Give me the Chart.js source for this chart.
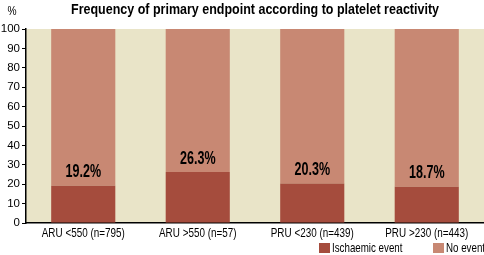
<!DOCTYPE html>
<html>
<head>
<meta charset="utf-8">
<script src="https://cdn.jsdelivr.net/npm/chart.js@4"></script>
<style>
  html, body { margin: 0; padding: 0; background: #fff; }
  #wrap { width: 484px; height: 255px; position: relative; }
</style>
</head>
<body>
<div id="wrap"><canvas id="chart" width="484" height="255"></canvas></div>
<script>
const categories = ['ARU <550 (n=795)', 'ARU >550 (n=57)', 'PRU <230 (n=439)', 'PRU >230 (n=443)'];
const ischaemic = [19.2, 26.3, 20.3, 18.7];
const noEvent = [80.8, 73.7, 79.7, 81.3];
const yTicks = [0, 10, 20, 30, 40, 50, 60, 70, 80, 90, 100];

const FONT = "'Liberation Sans', Arial, sans-serif";
const DARK = '#A54C3D';
const LIGHT = '#C88873';
const BG = '#E9E4C8';

// no condensed face is installed, so squeeze text horizontally
function narrowText(ctx, text, x, y, squeeze, align) {
    const w = ctx.measureText(text).width * squeeze;
    let left = x;
    if (align === 'center') left = x - w / 2;
    else if (align === 'right') left = x - w;
    ctx.save();
    ctx.textAlign = 'left';
    ctx.translate(left, y);
    ctx.scale(squeeze, 1);
    ctx.fillText(text, 0, 0);
    ctx.restore();
}

// beige plot background, title, % unit, value labels, x labels and legend
const decor = {
    id: 'decor',
    beforeDraw(chart) {
        const { ctx, chartArea: a } = chart;
        ctx.save();
        ctx.fillStyle = BG;
        ctx.fillRect(a.left, a.top, a.right - a.left, a.bottom - a.top);
        ctx.restore();
    },
    afterDraw(chart) {
        const { ctx, chartArea: a } = chart;
        const x = chart.scales.x, y = chart.scales.y;
        ctx.save();
        ctx.fillStyle = '#000';
        ctx.textBaseline = 'middle';

        ctx.font = 'bold 14px ' + FONT;
        const title = 'Frequency of primary endpoint according to platelet reactivity';
        narrowText(ctx, title, (a.left + a.right) / 2, 10, 368 / ctx.measureText(title).width, 'center');

        ctx.font = '12px ' + FONT;
        narrowText(ctx, '%', 12, 12, 0.85, 'center');

        // percentage labels above the ischaemic segment
        ctx.font = 'bold 19px ' + FONT;
        ischaemic.forEach((v, i) => {
            narrowText(ctx, v.toFixed(1) + '%', x.getPixelForValue(i), y.getPixelForValue(v) - 13.5, 0.66, 'center');
        });

        // category labels
        ctx.font = '13px ' + FONT;
        categories.forEach((c, i) => {
            narrowText(ctx, c, x.getPixelForValue(i), 233, 0.76, 'center');
        });

        // legend
        const items = [
            { label: 'Ischaemic event', color: DARK, x: 319 },
            { label: 'No event', color: LIGHT, x: 433 }
        ];
        items.forEach(it => {
            ctx.fillStyle = it.color;
            ctx.fillRect(it.x, 243, 11, 10);
            ctx.fillStyle = '#000';
            narrowText(ctx, it.label, it.x + 13, 248.5, 0.75, 'left');
        });
        ctx.restore();
    }
};

new Chart(document.getElementById('chart'), {
    type: 'bar',
    data: {
        labels: categories,
        datasets: [
            {
                label: 'Ischaemic event',
                data: ischaemic,
                backgroundColor: DARK,
                barPercentage: 0.56,
                categoryPercentage: 1
            },
            {
                label: 'No event',
                data: noEvent,
                backgroundColor: LIGHT,
                barPercentage: 0.56,
                categoryPercentage: 1
            }
        ]
    },
    options: {
        responsive: false,
        animation: false,
        layout: { padding: { top: 29, left: 0, right: 0, bottom: 0 } },
        plugins: {
            legend: { display: false },
            tooltip: { enabled: false }
        },
        scales: {
            x: {
                stacked: true,
                grid: { display: false },
                border: { color: '#000', width: 1.5 },
                ticks: { display: false },
                afterFit: s => { s.height = 32; }
            },
            y: {
                stacked: true,
                min: 0,
                max: 100,
                afterBuildTicks: s => { s.ticks = yTicks.map(v => ({ value: v })); },
                grid: { drawOnChartArea: false, drawTicks: true, tickLength: 4, color: '#000' },
                border: { color: '#000', width: 1.5 },
                ticks: { color: '#000', font: { family: FONT, size: 11.5 }, padding: 2 },
                afterFit: s => { s.width = 26; }
            }
        }
    },
    plugins: [decor]
});
</script>
</body>
</html>
